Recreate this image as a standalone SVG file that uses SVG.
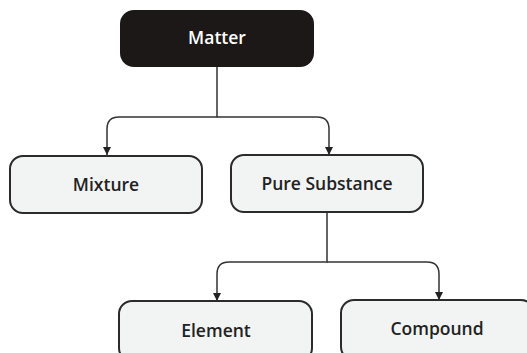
<svg xmlns="http://www.w3.org/2000/svg" width="527" height="353" viewBox="0 0 527 353">
<style>
.box{fill:#f2f3f3;stroke:#2b2b2b;stroke-width:2}
.root{fill:#1c1818;stroke:#1c1818;stroke-width:2}
.lbl{font-family:"Open Sans","DejaVu Sans",sans-serif;font-size:17.5px;font-weight:600;fill:#222;text-anchor:middle}
.lblw{fill:#fff}
.edge{fill:none;stroke:#333;stroke-width:1.5}
</style>
<defs>
<marker id="arr" viewBox="0 0 10 10" refX="10" refY="5" markerWidth="8" markerHeight="8" markerUnits="userSpaceOnUse" orient="auto">
<path d="M0 0 L10 5 L0 10 Z" fill="#222"/>
</marker>
</defs>
<rect width="527" height="353" fill="#fff"/>
<g id="connectors">
<path class="edge" d="M217 66 V117 H119 Q107 117 107 129 V155" marker-end="url(#arr)"/>
<path class="edge" d="M217 117 H317 Q329 117 329 129 V155" marker-end="url(#arr)"/>
<path class="edge" d="M327 213 V262 H229 Q217 262 217 274 V301" marker-end="url(#arr)"/>
<path class="edge" d="M327 262 H427 Q439 262 439 274 V300" marker-end="url(#arr)"/>
</g>
<g id="matter">
<rect class="root" x="121" y="11" width="192" height="55" rx="13"/>
<text class="lbl lblw" x="217" y="44">Matter</text>
</g>
<g id="mixture">
<rect class="box" x="10" y="156" width="192" height="57" rx="13"/>
<text class="lbl" x="106" y="191">Mixture</text>
</g>
<g id="pure">
<rect class="box" x="231" y="155" width="192" height="57" rx="13"/>
<text class="lbl" x="327" y="190">Pure Substance</text>
</g>
<g id="element">
<rect class="box" x="119" y="301" width="193" height="60" rx="13"/>
<text class="lbl" x="216" y="337">Element</text>
</g>
<g id="compound">
<rect class="box" x="341" y="300" width="193" height="60" rx="13"/>
<text class="lbl" x="437" y="335">Compound</text>
</g>
</svg>
